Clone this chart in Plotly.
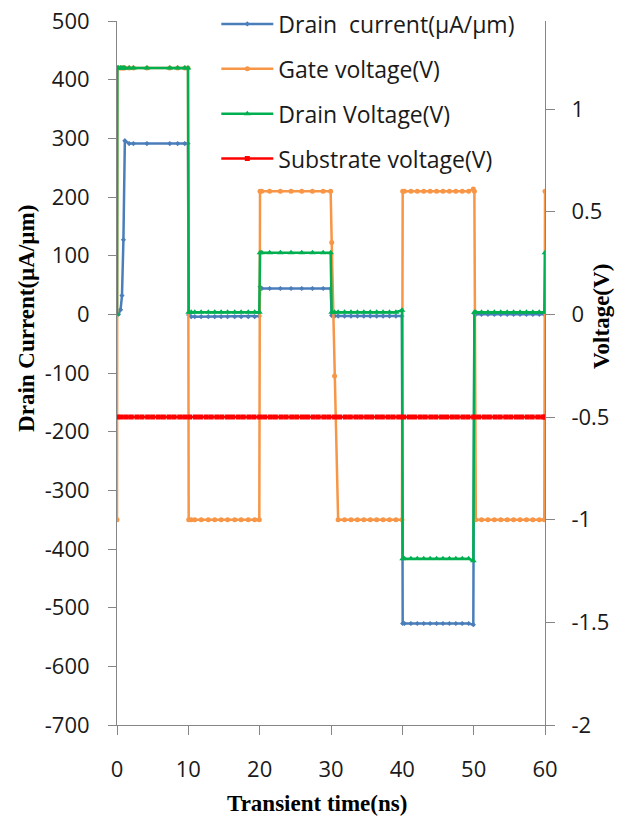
import plotly.graph_objects as go

# ---------------- data ----------------
time_ns = [
    0, 0.05, 0.2, 0.5, 0.7, 0.9, 1.1, 1.7, 2.3, 4.2, 7.4, 8.5, 9.5, 9.95,
    10.05, 10.4, 10.9, 11.8, 12.8, 13.7, 14.6, 15.5, 16.5, 17.4, 18.4, 19.3, 19.95,
    20.05, 20.3, 21.4, 22.9, 24.4, 25.9, 27.4, 28.9, 29.95,
    30.1, 30.5, 31.0, 31.9, 32.8, 33.7, 34.6, 35.5, 36.4, 37.3, 38.2, 39.1, 39.95,
    40.05, 40.3, 41.2, 42.1, 43.0, 43.9, 44.8, 45.7, 46.6, 47.5, 48.4, 49.3, 49.95,
    50.1, 50.3, 51.1, 52.0, 52.9, 53.8, 54.7, 55.6, 56.5, 57.4, 58.3, 59.2, 59.9, 60.0,
]

drain_current = [
    0, 0, 0, 8, 32, 127, 296, 291, 291, 291, 291, 291, 291, 291,
    -1, -4, -4, -4, -4, -4, -4, -4, -4, -4, -4, -4, -3,
    47, 44, 44, 44, 44, 44, 44, 44, 44,
    -2, -3, -3, -3, -3, -3, -3, -3, -3, -3, -3, -3, -3,
    -527, -527, -527, -527, -527, -527, -527, -527, -527, -527, -527, -527, -529,
    1, 0, 0, 0, 0, 0, 0, 0, 0, 0, 0, 0, 0, 0,
]

gate_voltage = [
    -1, 1.2, 1.2, 1.2, 1.2, 1.2, 1.2, 1.2, 1.2, 1.2, 1.2, 1.2, 1.2, 1.2,
    -1, -1, -1, -1, -1, -1, -1, -1, -1, -1, -1, -1, -1,
    0.6, 0.6, 0.6, 0.6, 0.6, 0.6, 0.6, 0.6, 0.6,
    0.35, -0.3, -1, -1, -1, -1, -1, -1, -1, -1, -1, -1, -1,
    0.6, 0.6, 0.6, 0.6, 0.6, 0.6, 0.6, 0.6, 0.6, 0.6, 0.6, 0.6, 0.61,
    0.6, -1, -1, -1, -1, -1, -1, -1, -1, -1, -1, -1, -1, 0.6,
]

drain_voltage = [
    0, 1.2, 1.2, 1.2, 1.2, 1.2, 1.2, 1.2, 1.2, 1.2, 1.2, 1.2, 1.2, 1.2,
    0.01, 0.01, 0.01, 0.01, 0.01, 0.01, 0.01, 0.01, 0.01, 0.01, 0.01, 0.01, 0.01,
    0.3, 0.3, 0.3, 0.3, 0.3, 0.3, 0.3, 0.3, 0.3,
    0.01, 0.01, 0.01, 0.01, 0.01, 0.01, 0.01, 0.01, 0.01, 0.01, 0.01, 0.01, 0.02,
    -1.19, -1.19, -1.19, -1.19, -1.19, -1.19, -1.19, -1.19, -1.19, -1.19, -1.19, -1.19, -1.2,
    0.01, 0.01, 0.01, 0.01, 0.01, 0.01, 0.01, 0.01, 0.01, 0.01, 0.01, 0.01, 0.01, 0.3,
]

substrate_time_ns = [
    0, 0.6, 1.3, 2.0, 2.8, 3.5, 4.3, 5.0, 5.8, 6.5, 7.3, 8.0, 8.8, 9.5,
    10.2, 11.0, 11.7, 12.5, 13.2, 14.0, 14.7, 15.5, 16.2, 17.0, 17.7, 18.5, 19.2,
    20.0, 20.7, 21.5, 22.2, 23.0, 23.7, 24.5, 25.2, 26.0, 26.7, 27.5, 28.2, 29.0, 29.7,
    30.5, 31.2, 32.0, 32.7, 33.5, 34.2, 35.0, 35.7, 36.5, 37.2, 38.0, 38.7, 39.5,
    40.2, 41.0, 41.7, 42.5, 43.2, 44.0, 44.7, 45.5, 46.2, 47.0, 47.7, 48.5, 49.2,
    50.0, 50.7, 51.5, 52.2, 53.0, 53.7, 54.5, 55.2, 56.0, 56.7, 57.5, 58.2, 59.0, 59.7, 60.0,
]
substrate_voltage = [
    -0.5, -0.5, -0.5, -0.5, -0.5, -0.5, -0.5, -0.5, -0.5, -0.5, -0.5, -0.5, -0.5, -0.5,
    -0.5, -0.5, -0.5, -0.5, -0.5, -0.5, -0.5, -0.5, -0.5, -0.5, -0.5, -0.5, -0.5,
    -0.5, -0.5, -0.5, -0.5, -0.5, -0.5, -0.5, -0.5, -0.5, -0.5, -0.5, -0.5, -0.5, -0.5,
    -0.5, -0.5, -0.5, -0.5, -0.5, -0.5, -0.5, -0.5, -0.5, -0.5, -0.5, -0.5, -0.5,
    -0.5, -0.5, -0.5, -0.5, -0.5, -0.5, -0.5, -0.5, -0.5, -0.5, -0.5, -0.5, -0.5,
    -0.5, -0.5, -0.5, -0.5, -0.5, -0.5, -0.5, -0.5, -0.5, -0.5, -0.5, -0.5, -0.5, -0.5, -0.5,
]

x_ticks = [0, 10, 20, 30, 40, 50, 60]
x_ticktext = ["0", "10", "20", "30", "40", "50", "60"]
y_ticks = [500, 400, 300, 200, 100, 0, -100, -200, -300, -400, -500, -600, -700]
y_ticktext = ["500", "400", "300", "200", "100", "0", "-100", "-200", "-300",
              "-400", "-500", "-600", "-700"]
y2_ticks = [1, 0.5, 0, -0.5, -1, -1.5, -2]
y2_ticktext = ["1", "0.5", "0", "-0.5", "-1", "-1.5", "-2"]

series_names = ["Drain\u00a0 current(µA/µm)", "Gate voltage(V)",
                "Drain Voltage(V)", "Substrate voltage(V)"]

# ---------------- figure ----------------
BLUE = "#4A7EBB"
ORANGE = "#F79646"
GREEN = "#00B050"
RED = "#FF0000"
AXIS = "#868686"
TICKFONT = dict(family="Open Sans, Lato, sans-serif", size=22, color="#1a1a1a")
TITLEFONT = dict(family="Liberation Serif, Times New Roman, serif", size=23, color="#000000")

fig = go.Figure()
fig.add_trace(go.Scatter(
    x=time_ns, y=drain_current, name=series_names[0], yaxis="y",
    mode="lines+markers", legendgroup="a",
    line=dict(color=BLUE, width=2.5),
    marker=dict(symbol="diamond", size=4, color=BLUE)))
fig.add_trace(go.Scatter(
    x=time_ns, y=gate_voltage, name=series_names[1], yaxis="y2",
    mode="lines+markers", legendgroup="b",
    line=dict(color=ORANGE, width=2.5),
    marker=dict(symbol="circle", size=5, color=ORANGE)))
fig.add_trace(go.Scatter(
    x=time_ns, y=drain_voltage, name=series_names[2], yaxis="y2",
    mode="lines+markers", legendgroup="c",
    line=dict(color=GREEN, width=2.5),
    marker=dict(symbol="triangle-up", size=6, color=GREEN)))
fig.add_trace(go.Scatter(
    x=substrate_time_ns, y=substrate_voltage, name=series_names[3], yaxis="y2",
    mode="lines+markers", legendgroup="d",
    line=dict(color=RED, width=2.5),
    marker=dict(symbol="square", size=5, color=RED)))

fig.update_layout(
    width=634, height=816,
    margin=dict(l=117, r=89, t=21, b=91, pad=0, autoexpand=False),
    paper_bgcolor="white", plot_bgcolor="white",
    showlegend=True,
    legend=dict(
        xref="paper", yref="container",
        x=0.232, y=0.997, xanchor="left", yanchor="top",
        bgcolor="rgba(0,0,0,0)", borderwidth=0,
        font=dict(family="Open Sans, Lato, sans-serif", size=23, color="#1a1a1a"),
        traceorder="grouped", tracegroupgap=12, itemwidth=52,
    ),
    xaxis=dict(
        range=[0, 60], tickvals=x_ticks, ticktext=x_ticktext,
        ticks="outside", ticklen=9, tickcolor=AXIS, tickwidth=1,
        showline=True, linecolor=AXIS, linewidth=1,
        showgrid=False, zeroline=False, tickfont=TICKFONT,
        ticklabelstandoff=16,
    ),
    yaxis=dict(
        range=[-700, 500], tickvals=y_ticks, ticktext=y_ticktext,
        ticks="outside", ticklen=8, tickcolor=AXIS, tickwidth=1,
        showline=True, linecolor=AXIS, linewidth=1,
        showgrid=False, zeroline=False, tickfont=TICKFONT,
        ticklabelstandoff=14,
    ),
    yaxis2=dict(
        range=[-2, 10 / 7], tickvals=y2_ticks, ticktext=y2_ticktext,
        overlaying="y", side="right", anchor="x",
        ticks="outside", ticklen=9, tickcolor=AXIS, tickwidth=1,
        showline=True, linecolor=AXIS, linewidth=1,
        showgrid=False, zeroline=False, tickfont=TICKFONT,
        ticklabelstandoff=12,
    ),
    annotations=[
        dict(text="<b>Drain Current(µA/µm)</b>", xref="paper", yref="paper",
             x=-0.213, y=0.578, xanchor="center", yanchor="middle",
             textangle=-90, showarrow=False, font=TITLEFONT),
        dict(text="<b>Voltage(V)</b>", xref="paper", yref="paper",
             x=1.133, y=0.581, xanchor="center", yanchor="middle",
             textangle=-90, showarrow=False, font=TITLEFONT),
        dict(text="<b>Transient time(ns)</b>", xref="paper", yref="paper",
             x=0.467, y=-0.111, xanchor="center", yanchor="middle",
             showarrow=False, font=TITLEFONT),
    ],
)

fig.write_html("out.html")
